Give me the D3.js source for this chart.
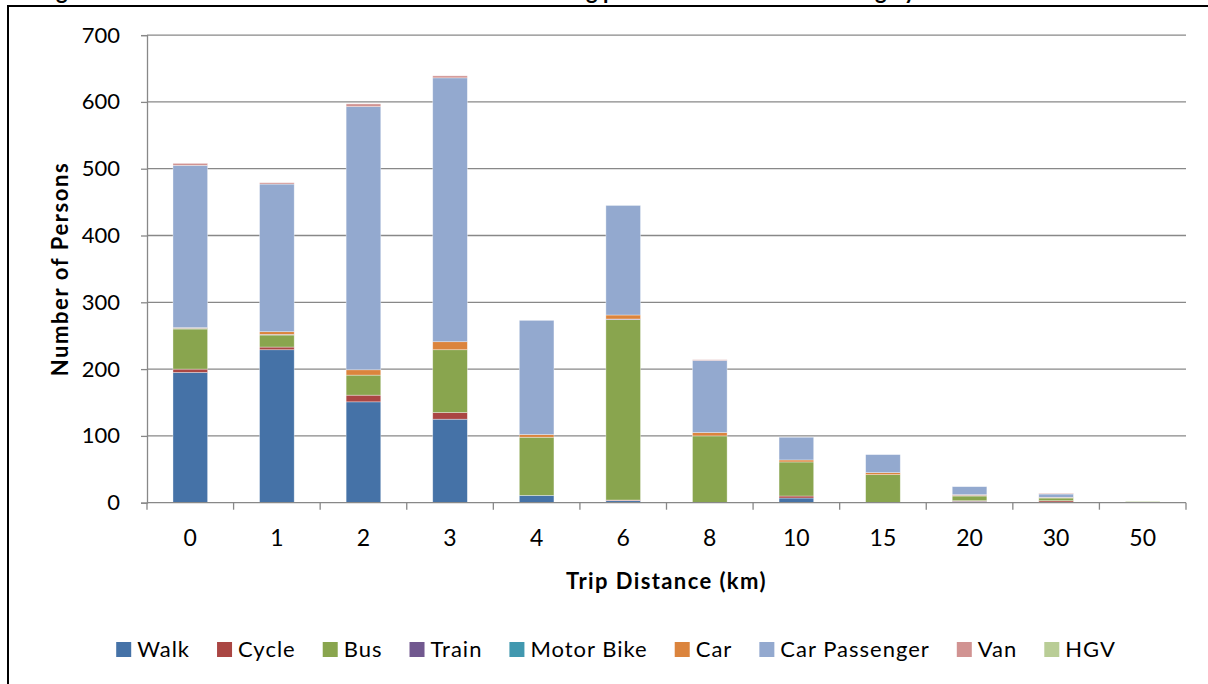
<html>
<head>
<script src="https://d3js.org/d3.v7.min.js"></script>
<style>
  body { margin: 0; background: #fff; }
  text { font-family: Lato, "Noto Sans", sans-serif; fill: #000; }
</style>
</head>
<body>
<svg width="1208" height="684"></svg>
<script>
// trip distance bands (km)
const categories = ["0", "1", "2", "3", "4", "6", "8", "10", "15", "20", "30", "50"];
const modes = ["Walk", "Cycle", "Bus", "Train", "Motor Bike", "Car", "Car Passenger", "Van", "HGV"];
const colors = ["#4572A7", "#AA4643", "#89A54E", "#71588F", "#4198AF", "#DB843D", "#93A9CF", "#D19392", "#B9CD96"];

// number of persons per mode, one value per distance band
const walk      = [195, 229, 151, 125, 11, 3, 0, 7, 0, 2, 1, 0];
const cycle     = [5, 4, 10, 10, 0, 1, 0, 3, 0, 1, 2, 0];
const bus       = [60, 18, 30, 94, 87, 270, 100, 51, 42, 7, 4, 0];
const train     = [0, 1, 0, 0, 0, 1, 0, 0, 0, 1, 0, 0];
const motorBike = [1, 0, 0, 0, 0, 0, 0, 0, 0, 0, 0, 0];
const car       = [1, 4, 8, 12, 4, 6, 5, 3, 3, 1, 1, 0];
const carPass   = [243, 221, 394, 395, 171, 164, 108, 34, 27, 12, 5, 0];
const van       = [3, 2, 4, 3, 0, 0, 1, 0, 0, 0, 1, 0];
const hgv       = [0, 0, 0, 0, 0, 0, 0, 0, 0, 0, 0, 2];

const yTicks = [0, 100, 200, 300, 400, 500, 600, 700];

const series = [walk, cycle, bus, train, motorBike, car, carPass, van, hgv];
const table = categories.map((c, i) => {
  const row = { cat: c };
  modes.forEach((m, j) => row[m] = series[j][i]);
  return row;
});

const svg = d3.select("svg");
const plotLeft = 147, plotRight = 1186, plotTop = 35.1, plotBottom = 502.7;

// caption above the frame, cut off by the page top (only descenders show)
const cap = svg.append("text").attr("y", -1.5)
  .style("font-weight", "bold").style("font-size", "22px");
cap.append("tspan").attr("x", 38).text("Figure 5: Number of Persons and Mode of Travel ");
cap.append("tspan").attr("x", 535).text("during peak hour ");
const probe = svg.append("text").style("font-weight", "bold").style("font-size", "22px").text("Travellin");
const tw = probe.node().getComputedTextLength();
probe.remove();
cap.append("tspan").attr("x", 875 - tw).text("Travelling by All Modes");

svg.append("rect").attr("x", 8).attr("y", 6).attr("width", 1220).attr("height", 700)
  .attr("fill", "none").attr("stroke", "#000").attr("stroke-width", 2);

const x = d3.scaleBand().domain(categories).range([plotLeft, plotRight]).paddingInner(0.6).paddingOuter(0.3);
const y = d3.scaleLinear().domain([0, 700]).range([plotBottom, plotTop]);

// gridlines
svg.append("g").selectAll("line").data(yTicks.slice(1)).join("line")
  .attr("x1", plotLeft).attr("x2", plotRight)
  .attr("y1", d => y(d)).attr("y2", d => y(d))
  .attr("stroke", "#888").attr("stroke-width", 1.3);

// stacked bars
const stack = d3.stack().keys(modes)(table);
svg.append("g").selectAll("g").data(stack).join("g")
  .attr("fill", (d, i) => colors[i])
  .selectAll("rect").data(d => d).join("rect")
    .attr("x", d => x(d.data.cat))
    .attr("width", x.bandwidth())
    .attr("y", d => y(d[1]))
    .attr("height", d => y(d[0]) - y(d[1]))
    .attr("stroke", "#fff").attr("stroke-opacity", 0.5).attr("stroke-width", 0.7);

// y axis
const yAxis = svg.append("g").attr("transform", "translate(" + plotLeft + ",0)")
  .call(d3.axisLeft(y).tickValues(yTicks).tickSize(6).tickPadding(21).tickFormat(d3.format("d")));
yAxis.select(".domain").attr("stroke", "#888").attr("stroke-width", 1.3);
yAxis.selectAll(".tick line").attr("stroke", "#888").attr("stroke-width", 1.3);
yAxis.selectAll("text").style("font-size", "22px").style("font-family", "Lato");

// x axis: baseline, boundary ticks, labels
svg.append("line").attr("x1", plotLeft).attr("x2", plotRight).attr("y1", plotBottom).attr("y2", plotBottom)
  .attr("stroke", "#888").attr("stroke-width", 1.3);
const bounds = categories.map(c => x(c) - x.step() * 0.3).concat([plotRight]);
svg.append("g").selectAll("line").data(bounds).join("line")
  .attr("x1", d => d).attr("x2", d => d).attr("y1", plotBottom).attr("y2", plotBottom + 7)
  .attr("stroke", "#888").attr("stroke-width", 1.3);
const xAxis = svg.append("g").attr("transform", "translate(0," + plotBottom + ")")
  .call(d3.axisBottom(x).tickSize(0).tickPadding(27));
xAxis.select(".domain").remove();
xAxis.selectAll("text").style("font-size", "23px").style("font-family", "Lato");

// axis titles
svg.append("text").attr("x", (plotLeft + plotRight) / 2).attr("y", 589)
  .attr("text-anchor", "middle").style("font-weight", "bold").style("font-size", "22px")
  .style("letter-spacing", "1.4px")
  .text("Trip Distance (km)");
svg.append("text").attr("transform", "translate(68,269) rotate(-90)")
  .attr("text-anchor", "middle").style("font-weight", "bold").style("font-size", "22px")
  .style("letter-spacing", "1.6px")
  .text("Number of Persons");

// legend
const legend = svg.append("g");
let lx = 0;
modes.forEach((m, i) => {
  const g = legend.append("g").attr("transform", "translate(" + lx + ",0)");
  g.append("rect").attr("x", 0).attr("y", 0).attr("width", 15).attr("height", 15).attr("fill", colors[i]);
  const t = g.append("text").attr("x", 21).attr("y", 15.3).style("font-size", "22px")
    .style("letter-spacing", "1px").text(m);
  lx += 21 + t.node().getComputedTextLength() + 27;
});
lx -= 27;
legend.attr("transform", "translate(" + (616 - lx / 2) + ",642)");
</script>
</body>
</html>
